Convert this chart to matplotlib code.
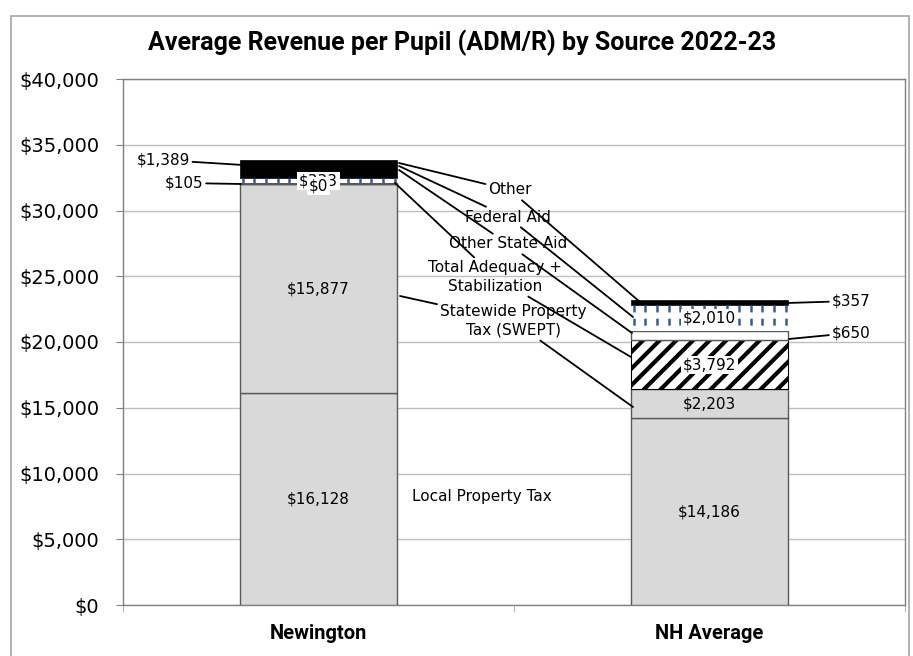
import matplotlib
matplotlib.use("Agg")
import matplotlib.pyplot as plt
import numpy as np
from matplotlib.patches import Rectangle

# ---------------- data ----------------
categories = ["Newington", "NH Average"]
series_names = ["Local Property Tax",
                "Statewide Property\nTax (SWEPT)",
                "Total Adequacy +\nStabilization",
                "Other State Aid",
                "Federal Aid",
                "Other"]
local_property_tax = [16128, 14186]
swept = [15877, 2203]
adequacy_stabilization = [0, 3792]
other_state_aid = [105, 650]
federal_aid = [333, 2010]
other = [1389, 357]
y_ticks = [0, 5000, 10000, 15000, 20000, 25000, 30000, 35000, 40000]
title = "Average Revenue per Pupil (ADM/R) by Source 2022-23"

plt.rcParams['font.family'] = ['DejaVu Sans']
plt.rcParams['hatch.linewidth'] = 3.0
plt.rcParams['lines.scale_dashes'] = False

W, H = 913, 656
fig = plt.figure(figsize=(W / 100, H / 100), dpi=100)
ax = fig.add_axes([123 / W, (H - 605) / H, (905 - 123) / W, (605 - 79) / H])

# outer chart border
fig.patches.append(Rectangle((11 / W, -0.02), (909 - 11) / W, 1.02 - 16 / H,
                             transform=fig.transFigure, fill=False,
                             edgecolor='#A6A6A6', lw=1.2))

x = np.arange(len(categories))
w = 0.4
values = [local_property_tax, swept, adequacy_stabilization,
          other_state_aid, federal_aid, other]
styles = [
    dict(facecolor='#D9D9D9', edgecolor='#595959', linewidth=1.0),
    dict(facecolor='#D9D9D9', edgecolor='#595959', linewidth=1.0),
    dict(facecolor='white', edgecolor='black', linewidth=0.8, hatch='//'),
    dict(facecolor='white', edgecolor='#595959', linewidth=1.0),
    dict(facecolor='white', edgecolor='none', linewidth=0),
    dict(facecolor='black', edgecolor='black', linewidth=0.5),
]

bottom = np.zeros(len(categories))
bar_containers = []
for vals, st in zip(values, styles):
    bc = ax.bar(x, vals, w, bottom=bottom, zorder=3, **st)
    bar_containers.append((bc, bottom.copy(), np.array(vals, dtype=float)))
    bottom = bottom + np.array(vals, dtype=float)

# blue dashed pattern for Federal Aid
fed_bc, fed_bot, fed_vals = bar_containers[4]
for i, rect in enumerate(fed_bc.patches):
    left = x[i] - w / 2
    xs = np.arange(left + 0.006, left + w, 0.0299)
    lc = ax.vlines(xs, fed_bot[i] + fed_vals[i], fed_bot[i], colors='#2E5E9E',
                   linewidth=1.8, linestyles=[(0, (5, 4.5))], zorder=4)
    lc.set_clip_path(rect)

# ---------------- value labels ----------------
lab_fs = 11
inside_box = [False, False, True, False, True, False]
for si, (bc, bots, vals) in enumerate(bar_containers):
    for i in range(len(categories)):
        v = vals[i]
        mid = bots[i] + v / 2
        txt = f"${v:,.0f}"
        if si in (3, 5):
            continue
        kw = {}
        if inside_box[si]:
            kw['bbox'] = dict(boxstyle='square,pad=0.1', fc='white', ec='none')
        dy = 0
        z = 6
        if si == 2 and i == 0:
            dy = -150
            z = 7
        ax.text(x[i], mid + dy, txt, ha='center', va='center', fontsize=lab_fs,
                zorder=z, **kw)

# outside labels for Other and Other State Aid
def px2data(px, py):
    return ((px - 123) / 391.0 - 0.5, (605 - py) / 526.0 * 40000)

outside = [
    (5, 0, px2data(163, 160), px2data(243, 165)),
    (3, 0, px2data(184, 183), px2data(241, 184)),
    (5, 1, px2data(851, 301), px2data(787, 303)),
    (3, 1, px2data(851, 333), px2data(789, 339)),
]
for si, i, tpos, apos in outside:
    v = values[si][i]
    ax.annotate(f"${v:,.0f}", xy=apos, xytext=tpos, ha='center', va='center',
                fontsize=lab_fs, zorder=6, annotation_clip=False,
                arrowprops=dict(arrowstyle='-', color='black', lw=1.3,
                                shrinkA=0, shrinkB=0))

# series name labels with leader lines to both bars
name_pos = [px2data(482, 496), px2data(513, 321), px2data(495, 277),
            px2data(508, 244), px2data(508, 217), px2data(510, 190)]
left_anchor = [None, px2data(400, 296), px2data(395, 183),
               px2data(399, 170), px2data(399, 166), px2data(399, 163)]
right_anchor = [None, px2data(633, 407), px2data(631, 357),
                px2data(632, 333), px2data(633, 317), px2data(640, 302)]
for name, tp, la, ra in zip(series_names, name_pos, left_anchor, right_anchor):
    if la is None:
        ax.text(tp[0], tp[1], name, ha='center', va='center', fontsize=lab_fs,
                zorder=6)
        continue
    ap = dict(arrowstyle='-', color='black', lw=1.3, shrinkA=0, shrinkB=0)
    ax.annotate(name, xy=la, xytext=tp, ha='center', va='center',
                fontsize=lab_fs, linespacing=1.3, zorder=6, arrowprops=ap)
    ax.annotate(name, xy=ra, xytext=tp, ha='center', va='center',
                fontsize=lab_fs, linespacing=1.3, zorder=6, color='none',
                arrowprops=ap)

# ---------------- axes ----------------
ax.set_xlim(-0.5, 1.5)
ax.set_ylim(0, 40000)
ax.set_yticks(y_ticks)
ax.set_yticklabels([f"${v:,.0f}" for v in y_ticks], fontsize=14)
ax.set_xticks(x)
ax.set_xticklabels(categories, fontsize=14.5, fontweight='bold',
                   family='Roboto')
ax.set_xticks([-0.5, 0.5, 1.5], minor=True)
ax.tick_params(axis='x', which='major', length=0, pad=14)
ax.tick_params(axis='x', which='minor', length=5, color='#A6A6A6')
ax.tick_params(axis='y', length=5, color='#808080', pad=12)
ax.grid(axis='y', color='#BFBFBF', lw=1.0, zorder=0)
ax.set_axisbelow(True)
for s in ax.spines.values():
    s.set_color('#808080')
    s.set_linewidth(1.0)

fig.text(462 / W, 1 - 43 / H, title, ha='center', va='center',
         fontsize=18, fontweight='bold', family='Roboto')

fig.savefig("out.png", dpi=100)
